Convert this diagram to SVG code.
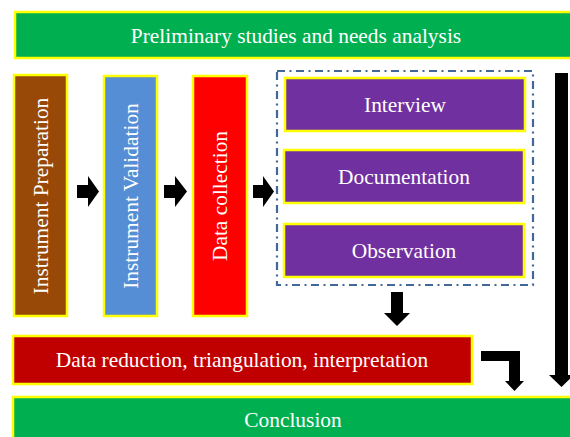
<svg xmlns="http://www.w3.org/2000/svg" width="570" height="437" viewBox="0 0 570 437">
<style>
.box{stroke:#FFFF00;stroke-width:2.5}
.t{font-family:"Liberation Serif","Times New Roman",serif;font-size:21.4px;fill:#FFFFFF;text-anchor:middle}
.arr{fill:#000000}
</style>
<rect width="570" height="437" fill="#FFFFFF"/>
<g id="preliminary">
<rect class="box" x="15" y="12" width="562" height="46" fill="#00B050"/>
<text class="t" x="296" y="43">Preliminary studies and needs analysis</text>
</g>
<g id="instrument-preparation">
<rect class="box" x="14" y="75" width="53" height="241" fill="#984807"/>
<text class="t" transform="translate(48,196) rotate(-90)">Instrument  Preparation</text>
</g>
<g id="instrument-validation">
<rect class="box" x="104" y="76" width="53" height="240" fill="#558ED5"/>
<text class="t" transform="translate(138,196) rotate(-90)">Instrument Validation</text>
</g>
<g id="data-collection">
<rect class="box" x="193" y="76" width="54" height="240" fill="#FF0000"/>
<text class="t" transform="translate(227,196) rotate(-90)">Data collection</text>
</g>
<g id="methods-group">
<rect x="277" y="71" width="256" height="214" fill="none" stroke="#42689A" stroke-width="2.2" stroke-dasharray="8 4.5 2 4.5"/>
</g>
<g id="interview">
<rect class="box" x="285" y="78" width="240" height="53" fill="#7030A0"/>
<text class="t" x="405" y="112">Interview</text>
</g>
<g id="documentation">
<rect class="box" x="284" y="150" width="240" height="53" fill="#7030A0"/>
<text class="t" x="404" y="184">Documentation</text>
</g>
<g id="observation">
<rect class="box" x="284" y="224" width="240" height="53" fill="#7030A0"/>
<text class="t" x="404" y="258">Observation</text>
</g>
<g id="data-reduction">
<rect class="box" x="13" y="336" width="459" height="48" fill="#C00000"/>
<text class="t" x="242" y="367">Data reduction, triangulation, interpretation</text>
</g>
<g id="conclusion">
<rect class="box" x="13" y="397" width="562" height="50" fill="#00B050"/>
<text class="t" x="293" y="427">Conclusion</text>
</g>
<g id="connectors">
<polygon class="arr" points="77,185 88,185 88,176 99,191.5 88,207 88,198 77,198"/>
<polygon class="arr" points="164,185 175,185 175,176 187,191.5 175,207 175,198 164,198"/>
<polygon class="arr" points="253,185 263,185 263,176 274,191.5 263,207 263,198 253,198"/>
<polygon class="arr" points="391,292 403,292 403,313 410,313 397,326 384,313 391,313"/>
<polygon class="arr" points="555,73 568,73 568,375 574,375 561.5,387 549,375 555,375"/>
<polygon class="arr" points="481,351 520,351 520,381 524,381 514.5,391 505,381 509,381 509,361 481,361"/>
</g>
</svg>
